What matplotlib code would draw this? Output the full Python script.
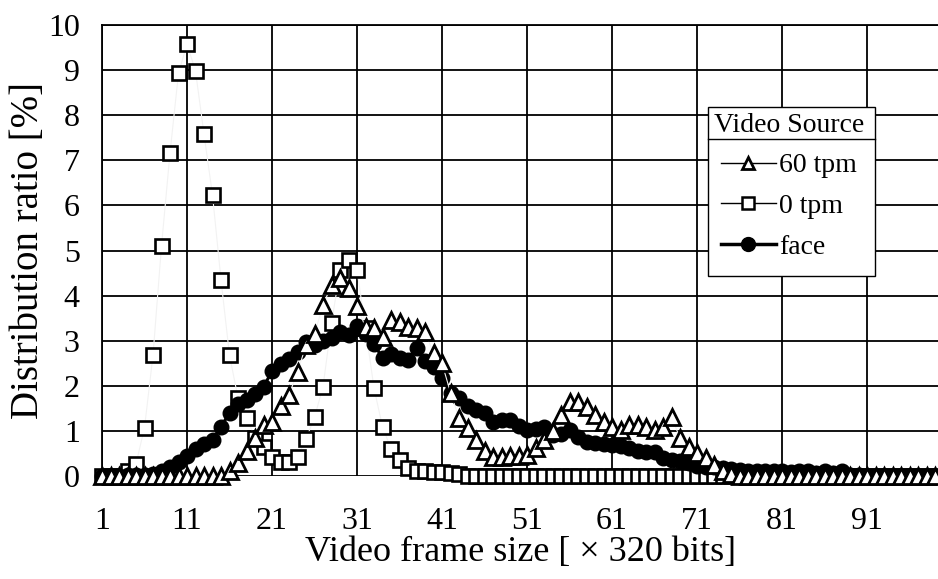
import numpy as np
import matplotlib
matplotlib.use("Agg")
import matplotlib.pyplot as plt
from matplotlib.lines import Line2D
from matplotlib.patches import Rectangle

plt.rcParams['font.family'] = ['Liberation Serif', 'DejaVu Serif']

# frame size index, 1..99
frame_size = list(range(1, 100))

tpm60 = [0, 0, 0, 0, 0, 0, 0, 0, 0, 0,
         0, 0, 0, 0, 0, 0.1, 0.28, 0.55, 0.85, 1.13,
         1.2, 1.55, 1.8, 2.3, 2.9, 3.15, 3.79, 4.23, 4.4, 4.17,
         3.77, 3.3, 3.28, 3.08, 3.46, 3.42, 3.31, 3.28, 3.2, 2.72,
         2.5, 1.85, 1.29, 1.07, 0.8, 0.55, 0.42, 0.42, 0.45, 0.45,
         0.46, 0.62, 0.8, 1.0, 1.35, 1.64, 1.64, 1.53, 1.35, 1.2,
         1.09, 1.02, 1.13, 1.13, 1.09, 1.02, 1.09, 1.31, 0.84, 0.64,
         0.5, 0.4, 0.25, 0.12, 0.05, 0, 0, 0, 0, 0,
         0, 0, 0, 0, 0, 0, 0, 0, 0, 0,
         0, 0, 0, 0, 0, 0, 0, 0, 0]

tpm0 = [0, 0, 0, 0.1, 0.27, 1.07, 2.68, 5.1, 7.16, 8.93,
        9.58, 8.98, 7.58, 6.23, 4.35, 2.68, 1.73, 1.29, 0.85, 0.64,
        0.42, 0.31, 0.31, 0.42, 0.82, 1.3, 1.98, 3.39, 4.56, 4.78,
        4.56, 3.28, 1.95, 1.09, 0.6, 0.35, 0.18, 0.12, 0.1, 0.08,
        0.08, 0.07, 0.05, 0, 0, 0, 0, 0, 0, 0,
        0, 0, 0, 0, 0, 0, 0, 0, 0, 0,
        0, 0, 0, 0, 0, 0, 0, 0, 0, 0,
        0, 0, 0, 0, 0, 0, 0, 0, 0, 0,
        0, 0, 0, 0, 0, 0, 0, 0, 0, 0,
        0, 0, 0, 0, 0, 0, 0, 0, 0]

face = [0, 0, 0, 0.02, 0.02, 0.03, 0.05, 0.1, 0.2, 0.3,
        0.45, 0.6, 0.7, 0.8, 1.09, 1.4, 1.6, 1.69, 1.82, 1.97,
        2.33, 2.48, 2.6, 2.76, 2.97, 2.9, 3.0, 3.06, 3.2, 3.13,
        3.33, 3.15, 2.92, 2.62, 2.7, 2.62, 2.57, 2.84, 2.55, 2.42,
        2.17, 1.84, 1.72, 1.55, 1.47, 1.4, 1.2, 1.24, 1.24, 1.1,
        1.02, 1.04, 1.08, 0.9, 0.93, 1.02, 0.86, 0.76, 0.73, 0.7,
        0.69, 0.66, 0.63, 0.55, 0.53, 0.53, 0.4, 0.35, 0.33, 0.29,
        0.22, 0.2, 0.2, 0.17, 0.15, 0.13, 0.12, 0.12, 0.1, 0.1,
        0.1, 0.08, 0.1, 0.12, 0.06, 0.12, 0.06, 0.12, 0.03, 0.02,
        0, 0, 0, 0, 0, 0, 0, 0, 0]

x_ticks = [1, 11, 21, 31, 41, 51, 61, 71, 81, 91]
y_ticks = list(range(0, 11))

W, H = 938, 579
fig = plt.figure(figsize=(W / 100, H / 100), dpi=100)
ax = fig.add_axes([102 / W, 1 - 476 / H, 1 - 102 / W, (476 - 25) / H])

ax.plot(frame_size, tpm0, color='#f2f2f2', lw=0.8, marker='s', ms=9.5,
        mfc='white', mec='black', mew=1.9, clip_on=False, zorder=3)
ax.plot(frame_size, face, color='black', lw=2.2, marker='o', ms=10.5,
        mfc='black', mec='black', clip_on=False, zorder=4)
ax.plot(frame_size, tpm60, color='#f2f2f2', lw=0.8, marker='^', ms=11,
        mfc='white', mec='black', mew=2.0, clip_on=False, zorder=5)

ax.set_xlim(1, 1 + (W - 102) / 8.5)
ax.set_ylim(0, 10)
ax.set_xticks(x_ticks)
ax.set_yticks(y_ticks)
ax.grid(True, color='black', lw=1.3)
ax.set_axisbelow(True)
for side in ['right', 'bottom']:
    ax.spines[side].set_visible(False)
for side in ['left', 'top']:
    ax.spines[side].set_linewidth(1.3)
ax.tick_params(axis='both', length=0, labelsize=23)
ax.tick_params(axis='x', pad=22.5)
ax.tick_params(axis='y', pad=16)

ax.set_xlabel('Video frame size [ \u00d7 320 bits]', fontsize=26, labelpad=0)
ax.set_ylabel('Distribution ratio [%]', fontsize=28, labelpad=1)

# legend box drawn by hand (title separated by a rule)
box_left, box_right, box_top, box_bottom = 708, 875, 107, 276
ax.add_patch(Rectangle((box_left / W, 1 - box_bottom / H),
                       (box_right - box_left) / W, (box_bottom - box_top) / H,
                       transform=fig.transFigure, facecolor='white',
                       edgecolor='black', lw=1.0, zorder=9, clip_on=False))

handles = [
    Line2D([], [], color='black', lw=1.0, marker='^', ms=9, mfc='white', mec='black', mew=2.0),
    Line2D([], [], color='black', lw=1.0, marker='s', ms=8, mfc='white', mec='black', mew=1.8),
    Line2D([], [], color='black', lw=2.5, marker='o', ms=10, mfc='black', mec='black'),
]
leg = ax.legend(handles, ['60 tpm', '0 tpm', 'face'], title='Video Source',
                loc='upper left', bbox_to_anchor=(box_left / W, 1 - box_top / H),
                bbox_transform=fig.transFigure, fontsize=20, title_fontsize=20,
                frameon=False, handlelength=2.0, handletextpad=0.1,
                labelspacing=0.55, borderpad=0.2, borderaxespad=0)
leg.set_zorder(10)

fig.canvas.draw()
tb = leg.get_title().get_window_extent()
y_sep = (tb.y0 - 1) / fig.bbox.height
ax.add_line(Line2D([box_left / W, box_right / W], [y_sep, y_sep],
                   transform=fig.transFigure, color='black', lw=1.0,
                   zorder=11, clip_on=False))

fig.savefig('out.png', dpi=100)
